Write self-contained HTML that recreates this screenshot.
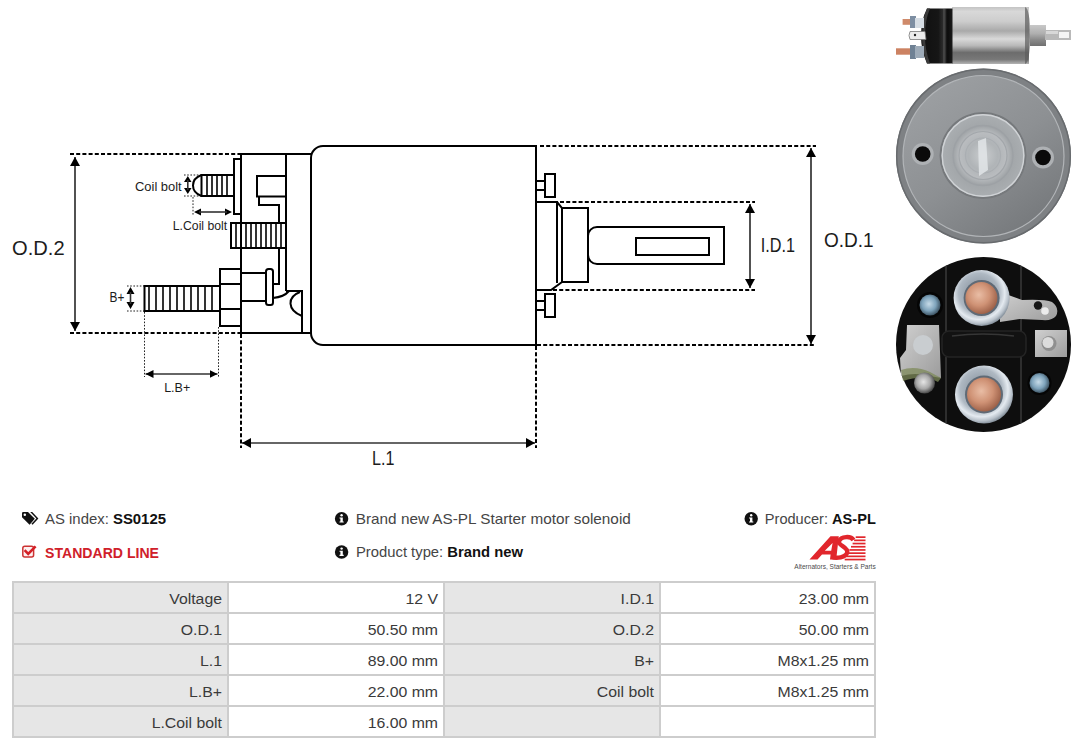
<!DOCTYPE html>
<html><head><meta charset="utf-8">
<style>
html,body{margin:0;padding:0;background:#fff;}
body{width:1080px;height:749px;overflow:hidden;position:relative;font-family:"Liberation Sans",sans-serif;}
.abs{position:absolute;}
svg{position:absolute;left:0;top:0;}
.t{position:absolute;white-space:nowrap;font-size:15px;color:#3a3a3a;line-height:1;}
.t b{color:#111;}
.cell{position:absolute;height:29px;}
.lab{background:#e6e6e6;}
.hl{position:absolute;background:#cfcfcf;}
.ct{position:absolute;white-space:nowrap;font-size:15px;color:#3a3a3a;line-height:1;text-align:right;}
</style></head>
<body>

<!-- TECHNICAL DRAWING -->
<svg width="1080" height="749" viewBox="0 0 1080 749">
<defs>
  <marker id="ah" viewBox="0 0 9 10" refX="9" refY="5" markerWidth="9" markerHeight="10" orient="auto-start-reverse" markerUnits="userSpaceOnUse">
    <path d="M0,0 L9,5 L0,10 z" fill="#000"/>
  </marker>
  <marker id="ahs" viewBox="0 0 8 8" refX="8" refY="4" markerWidth="8" markerHeight="8" orient="auto-start-reverse" markerUnits="userSpaceOnUse">
    <path d="M0,0 L8,4 L0,8 z" fill="#000"/>
  </marker>
</defs>
<g fill="none" stroke="#000" stroke-width="2">
  <!-- dashed extension lines (thick) -->
  <g stroke-dasharray="4 2.2">
    <line x1="70" y1="154" x2="238" y2="154"/>
    <line x1="70" y1="333" x2="240" y2="333"/>
    <line x1="540" y1="146" x2="816" y2="146"/>
    <line x1="537" y1="345" x2="816" y2="345"/>
    <line x1="560" y1="202" x2="755" y2="202"/>
    <line x1="553" y1="290" x2="755" y2="290"/>
    <line x1="241" y1="334" x2="241" y2="448"/>
    <line x1="536" y1="346" x2="536" y2="448"/>
  </g>
  <!-- thin dashed -->
  <g stroke-width="1" stroke-dasharray="1.6 1.6" stroke="#222">
    <line x1="184" y1="175" x2="201" y2="175"/>
    <line x1="184" y1="196" x2="201" y2="196"/>
    <line x1="193" y1="197" x2="193" y2="215"/>
    <line x1="233.5" y1="197" x2="233.5" y2="215"/>
    <line x1="127" y1="286" x2="144" y2="286"/>
    <line x1="127" y1="311" x2="144" y2="311"/>
    <line x1="144.5" y1="312" x2="144.5" y2="377"/>
    <line x1="218.5" y1="327" x2="218.5" y2="377"/>
  </g>
  <!-- main outline -->
  <line x1="238" y1="154" x2="311" y2="154"/>
  <line x1="241" y1="154" x2="241" y2="334"/>
  <line x1="286" y1="154" x2="286" y2="291"/>
  <polyline points="286,291 302,291 302,333"/>
  <line x1="240" y1="333" x2="311" y2="333"/>
  <!-- big body -->
  <path d="M536,146 L323,146 A12,12 0 0 0 311,158 L311,333 A12,12 0 0 0 323,345 L536,345 Z"/>
  <!-- coil plate -->
  <polyline points="241,159 234,159 234,214 241,214"/>
  <!-- coil bolt -->
  <path d="M233,175 L201.5,175 C196,177 193,180 193,185.5 C193,191 196,194 201.5,196 L233,196"/>
  <line x1="201.5" y1="175" x2="201.5" y2="196"/>
  <g stroke-width="1.6">
    <line x1="207" y1="175" x2="207" y2="196"/>
    <line x1="212" y1="175" x2="212" y2="196"/>
    <line x1="217" y1="175" x2="217" y2="196"/>
    <line x1="222" y1="175" x2="222" y2="196"/>
    <line x1="227" y1="175" x2="227" y2="196"/>
  </g>
  <!-- inner step shape -->
  <polyline points="286,176 257,176 257,196.5 286,196.5"/>
  <polyline points="259,196.5 259,205 279,205 279,222"/>
  <polyline points="279,248 279,284 273,284"/>
  <!-- threaded bar -->
  <rect x="231" y="223" width="55" height="25"/>
  <g stroke-width="1.6">
    <line x1="236" y1="223" x2="236" y2="248"/>
    <line x1="246" y1="223" x2="246" y2="248"/>
    <line x1="251" y1="223" x2="251" y2="248"/>
    <line x1="256" y1="223" x2="256" y2="248"/>
    <line x1="261" y1="223" x2="261" y2="248"/>
    <line x1="266" y1="223" x2="266" y2="248"/>
    <line x1="271" y1="223" x2="271" y2="248"/>
    <line x1="276" y1="223" x2="276" y2="248"/>
    <line x1="281" y1="223" x2="281" y2="248"/>
  </g>
  <!-- nut -->
  <rect x="220" y="269" width="21" height="57"/>
  <line x1="220" y1="284" x2="241" y2="284"/>
  <line x1="220" y1="309" x2="241" y2="309"/>
  <!-- B+ bolt -->
  <rect x="144.5" y="286" width="75.5" height="25"/>
  <g stroke-width="1.6">
    <line x1="149" y1="286" x2="149" y2="311"/>
    <line x1="156" y1="286" x2="156" y2="311"/>
    <line x1="163" y1="286" x2="163" y2="311"/>
    <line x1="170" y1="286" x2="170" y2="311"/>
    <line x1="177" y1="286" x2="177" y2="311"/>
    <line x1="184" y1="286" x2="184" y2="311"/>
    <line x1="191" y1="286" x2="191" y2="311"/>
    <line x1="198" y1="286" x2="198" y2="311"/>
    <line x1="205" y1="286" x2="205" y2="311"/>
    <line x1="212" y1="286" x2="212" y2="311"/>
  </g>
  <!-- terminal cylinder + washer -->
  <rect x="241" y="273" width="25" height="28"/>
  <rect x="266" y="269" width="7" height="36" rx="2.5"/>
  <path d="M273,298 Q284,297 289,291"/>
  <path d="M300,292 C287,297 287,310 302,316"/>
  <!-- right side studs -->
  <rect x="545" y="174" width="10" height="23"/>
  <line x1="536" y1="181" x2="545" y2="181"/>
  <line x1="536" y1="190" x2="545" y2="190"/>
  <rect x="545" y="294" width="10" height="23"/>
  <line x1="536" y1="301" x2="545" y2="301"/>
  <line x1="536" y1="310" x2="545" y2="310"/>
  <!-- housing -->
  <polyline points="536,202 557,202 557,283"/>
  <polyline points="557,202 562,208 562,282 551,290 536,290"/>
  <rect x="562" y="208" width="26" height="74"/>
  <!-- shaft -->
  <path d="M588,236 A9,9 0 0 1 597,227 L724,227 L724,264 L597,264 A9,9 0 0 1 588,255"/>
  <rect x="636" y="238" width="73" height="17"/>
</g>
<!-- dimension arrows -->
<g stroke="#333" stroke-width="1.7" fill="none">
  <line x1="75" y1="157" x2="75" y2="331" marker-start="url(#ah)" marker-end="url(#ah)"/>
  <line x1="811" y1="148" x2="811" y2="344" marker-start="url(#ah)" marker-end="url(#ah)"/>
  <line x1="750" y1="204" x2="750" y2="288" marker-start="url(#ah)" marker-end="url(#ah)"/>
  <line x1="242" y1="443" x2="535" y2="443" marker-start="url(#ah)" marker-end="url(#ah)"/>
  <line x1="145.5" y1="374" x2="217.5" y2="374" marker-start="url(#ahs)" marker-end="url(#ahs)"/>
</g>
<g fill="#000">
  <!-- small double arrows -->
  <path d="M187.8,176 L191.5,182 L184,182 Z M187.8,194 L191.5,188 L184,188 Z"/>
  <path d="M130.5,287 L134.5,294 L126.5,294 Z M130.5,309 L134.5,302 L126.5,302 Z"/>
  <path d="M194,212 L201,208.5 L201,215.5 Z M232,212 L225,208.5 L225,215.5 Z"/>
</g>
<g stroke="#333" stroke-width="1.6">
  <line x1="187.8" y1="180" x2="187.8" y2="190"/>
  <line x1="130.5" y1="292" x2="130.5" y2="304"/>
  <line x1="199" y1="212" x2="227" y2="212"/>
</g>
<!-- labels -->
<g font-family="Liberation Sans" fill="#1c1c1c">
  <text x="12" y="254.8" font-size="20.6" textLength="52.6" lengthAdjust="spacingAndGlyphs">O.D.2</text>
  <text x="824" y="247.4" font-size="20.6" textLength="49.7" lengthAdjust="spacingAndGlyphs">O.D.1</text>
  <text x="760.7" y="251.7" font-size="20.6" textLength="34.3" lengthAdjust="spacingAndGlyphs">I.D.1</text>
  <text x="372" y="465.4" font-size="20.6" textLength="22.4" lengthAdjust="spacingAndGlyphs">L.1</text>
  <text x="135" y="190.8" font-size="12" textLength="46.7" lengthAdjust="spacingAndGlyphs">Coil bolt</text>
  <text x="172.8" y="230" font-size="12" textLength="54.4" lengthAdjust="spacingAndGlyphs">L.Coil bolt</text>
  <text x="109.5" y="301.6" font-size="14.5" textLength="14.8" lengthAdjust="spacingAndGlyphs">B+</text>
  <text x="164.2" y="391.5" font-size="13" textLength="26" lengthAdjust="spacingAndGlyphs">L.B+</text>
</g>
</svg>


<!-- INFO TEXT + TABLE -->
<svg width="1080" height="749" viewBox="0 0 1080 749">
<g font-family="Liberation Sans" font-size="15">
  <!-- tag icon -->
  <g fill="#111">
    <path d="M22,513.3 Q22,512 23.3,512 L28,512 L34.8,518.8 L29.6,524.8 L22,517.2 Z"/>
    <path d="M30.2,512 L32.2,512 L38.4,518.6 L32.6,524.8 L31.4,523.8 L36.4,518.6 Z"/>
  </g>
  <circle cx="24.8" cy="514.8" r="1.25" fill="#fff"/>
  <text x="45" y="524.4" fill="#454545" textLength="121" lengthAdjust="spacingAndGlyphs">AS index: <tspan font-weight="bold" fill="#111">SS0125</tspan></text>
  <!-- check square -->
  <rect x="22.8" y="546.3" width="10.8" height="10.6" rx="2" fill="#fdf0f0" stroke="#cc3333" stroke-width="1.5"/>
  <polyline points="24.6,550.2 28.2,553.8 35.6,546.4" fill="none" stroke="#d42026" stroke-width="2.6"/>
  <text x="45" y="557.7" fill="#d0202a" font-weight="bold" font-size="15.4" textLength="114" lengthAdjust="spacingAndGlyphs">STANDARD LINE</text>
  <!-- info icons -->
  <g fill="#111">
    <circle cx="341.6" cy="518.7" r="6.7"/>
    <circle cx="341.6" cy="552" r="6.7"/>
    <circle cx="751.2" cy="518.7" r="6.7"/>
  </g>
  <g fill="#fff">
    <path id="ii" d="M340.4,517.4 L342.8,517.4 L342.8,521.4 L343.7,521.4 L343.7,522.6 L339.5,522.6 L339.5,521.4 L340.4,521.4 L340.4,518.5 L339.5,518.5 L339.5,517.4 Z"/><circle cx="341.6" cy="515.3" r="1.2"/>
    <path d="M340.4,550.7 L342.8,550.7 L342.8,554.7 L343.7,554.7 L343.7,555.9 L339.5,555.9 L339.5,554.7 L340.4,554.7 L340.4,551.8 L339.5,551.8 L339.5,550.7 Z"/><circle cx="341.6" cy="548.6" r="1.2"/>
    <path d="M750,517.4 L752.4,517.4 L752.4,521.4 L753.3,521.4 L753.3,522.6 L749.1,522.6 L749.1,521.4 L750,521.4 L750,518.5 L749.1,518.5 L749.1,517.4 Z"/><circle cx="751.2" cy="515.3" r="1.2"/>
  </g>
  <text x="355.8" y="524.4" fill="#454545" textLength="275" lengthAdjust="spacingAndGlyphs">Brand new AS-PL Starter motor solenoid</text>
  <text x="356" y="557.4" fill="#454545" textLength="167" lengthAdjust="spacingAndGlyphs">Product type: <tspan font-weight="bold" fill="#111">Brand new</tspan></text>
  <text x="764.8" y="524.4" fill="#454545" textLength="111" lengthAdjust="spacingAndGlyphs">Producer: <tspan font-weight="bold" fill="#111">AS-PL</tspan></text>
  <!-- AS logo -->
  <g fill="#e1262c">
    <path d="M809.5,559.6 L830.5,536.3 L838.8,536.3 L836.2,559.6 L830,559.6 L830.6,554.5 L822,554.5 L817.5,559.6 Z M824.8,550.8 L831.2,550.8 L832.6,543 Z"/>
    <rect x="855.7" y="536.3" width="9.8" height="1.7"/>
    <rect x="854.1" y="539.5" width="11.4" height="1.7"/>
    <rect x="852.6" y="542.7" width="12.9" height="1.7"/>
    <rect x="851.0" y="545.9" width="14.5" height="1.7"/>
    <rect x="849.4" y="549.1" width="16.1" height="1.7"/>
    <rect x="847.8" y="552.3" width="17.7" height="1.7"/>
    <rect x="846.3" y="555.5" width="19.2" height="1.7"/>
    <rect x="844.7" y="558.7" width="20.8" height="1.7"/>
  </g>
  <path d="M853.5,540 C851,535.8 841,536 839,541.3 C837.5,545.5 848.5,547 847.2,552.6 C846,557.8 836,558.6 832,557" fill="none" stroke="#e1262c" stroke-width="4.4"/>
  <text x="794.3" y="569" font-size="7.6" fill="#4a4a4a" textLength="81.4" lengthAdjust="spacingAndGlyphs">Alternators, Starters &amp; Parts</text>
</g>
<!-- table -->
<g>
  <rect x="13" y="582" width="215" height="155" fill="#e6e6e6"/>
  <rect x="444" y="582" width="216" height="155" fill="#e6e6e6"/>
  <g fill="#cdcdcd">
    <rect x="12" y="581" width="864" height="2"/>
    <rect x="12" y="612" width="864" height="2"/>
    <rect x="12" y="643" width="864" height="2"/>
    <rect x="12" y="674" width="864" height="2"/>
    <rect x="12" y="705" width="864" height="2"/>
    <rect x="12" y="736" width="864" height="2"/>
    <rect x="12" y="581" width="2" height="157"/>
    <rect x="227" y="581" width="2" height="157"/>
    <rect x="443" y="581" width="2" height="157"/>
    <rect x="659" y="581" width="2" height="157"/>
    <rect x="874" y="581" width="2" height="157"/>
  </g>
</g>
<g font-family="Liberation Sans" font-size="15" fill="#3a3a3a" text-anchor="end">
  <text transform="translate(222,603.6) scale(1.055,1)">Voltage</text>
  <text transform="translate(438,603.6) scale(1.055,1)">12 V</text>
  <text transform="translate(654,603.6) scale(1.055,1)">I.D.1</text>
  <text transform="translate(869,603.6) scale(1.055,1)">23.00 mm</text>
  <text transform="translate(222,634.7) scale(1.055,1)">O.D.1</text>
  <text transform="translate(438,634.7) scale(1.055,1)">50.50 mm</text>
  <text transform="translate(654,634.7) scale(1.055,1)">O.D.2</text>
  <text transform="translate(869,634.7) scale(1.055,1)">50.00 mm</text>
  <text transform="translate(222,665.8) scale(1.055,1)">L.1</text>
  <text transform="translate(438,665.8) scale(1.055,1)">89.00 mm</text>
  <text transform="translate(654,665.8) scale(1.055,1)">B+</text>
  <text transform="translate(869,665.8) scale(1.055,1)">M8x1.25 mm</text>
  <text transform="translate(222,696.9) scale(1.055,1)">L.B+</text>
  <text transform="translate(438,696.9) scale(1.055,1)">22.00 mm</text>
  <text transform="translate(654,696.9) scale(1.055,1)">Coil bolt</text>
  <text transform="translate(869,696.9) scale(1.055,1)">M8x1.25 mm</text>
  <text transform="translate(222,728.0) scale(1.055,1)">L.Coil bolt</text>
  <text transform="translate(438,728.0) scale(1.055,1)">16.00 mm</text>
</g>
</svg>


<!-- PHOTOS -->
<svg width="1080" height="749" viewBox="0 0 1080 749">
<defs>
  <linearGradient id="cyl" x1="0" y1="0" x2="0" y2="1">
    <stop offset="0" stop-color="#c4c4c4"/>
    <stop offset="0.08" stop-color="#d8d8d8"/>
    <stop offset="0.25" stop-color="#cdcdcd"/>
    <stop offset="0.42" stop-color="#a9a9a9"/>
    <stop offset="0.56" stop-color="#d9d9d9"/>
    <stop offset="0.68" stop-color="#b8b8b8"/>
    <stop offset="0.8" stop-color="#6c6c6c"/>
    <stop offset="0.92" stop-color="#787878"/>
    <stop offset="1" stop-color="#b4b4b4"/>
  </linearGradient>
  <linearGradient id="nub" x1="0" y1="0" x2="0" y2="1">
    <stop offset="0" stop-color="#c8c8c8"/>
    <stop offset="0.4" stop-color="#b0b0b0"/>
    <stop offset="0.7" stop-color="#8a8a8a"/>
    <stop offset="1" stop-color="#707070"/>
  </linearGradient>
  <linearGradient id="cap" x1="0" y1="0" x2="1" y2="0">
    <stop offset="0" stop-color="#101010"/>
    <stop offset="0.55" stop-color="#161616"/>
    <stop offset="0.72" stop-color="#303030"/>
    <stop offset="0.85" stop-color="#0c0c0c"/>
    <stop offset="1" stop-color="#1c1c1c"/>
  </linearGradient>
  <linearGradient id="disc" x1="0.2" y1="0.1" x2="0.8" y2="0.95">
    <stop offset="0" stop-color="#9b9ea1"/>
    <stop offset="0.5" stop-color="#8d9093"/>
    <stop offset="1" stop-color="#76797c"/>
  </linearGradient>
  <radialGradient id="boss" cx="0.5" cy="0.5" r="0.5">
    <stop offset="0" stop-color="#c9ccce"/>
    <stop offset="0.35" stop-color="#b0b4b7"/>
    <stop offset="0.55" stop-color="#b9bcbf"/>
    <stop offset="0.7" stop-color="#a2a6a9"/>
    <stop offset="1" stop-color="#aaaeb1"/>
  </radialGradient>
  <radialGradient id="copper" cx="0.42" cy="0.4" r="0.62">
    <stop offset="0" stop-color="#e9bda5"/>
    <stop offset="0.55" stop-color="#cf9275"/>
    <stop offset="1" stop-color="#9c6048"/>
  </radialGradient>
  <radialGradient id="nutg" cx="0.45" cy="0.42" r="0.58">
    <stop offset="0" stop-color="#7a8591"/>
    <stop offset="0.62" stop-color="#aeb8c2"/>
    <stop offset="0.8" stop-color="#e4eaf0"/>
    <stop offset="0.92" stop-color="#b8c1ca"/>
    <stop offset="1" stop-color="#8a95a0"/>
  </radialGradient>
  <radialGradient id="screw" cx="0.45" cy="0.45" r="0.55">
    <stop offset="0" stop-color="#c6dbe8"/>
    <stop offset="0.6" stop-color="#7ea3bb"/>
    <stop offset="1" stop-color="#3f5666"/>
  </radialGradient>
  <radialGradient id="screw2" cx="0.45" cy="0.45" r="0.55">
    <stop offset="0" stop-color="#e6e6e6"/>
    <stop offset="0.6" stop-color="#a8a8a8"/>
    <stop offset="1" stop-color="#4a4a4a"/>
  </radialGradient>
  <linearGradient id="brk" x1="0" y1="0" x2="1" y2="1">
    <stop offset="0" stop-color="#d0d0d0"/>
    <stop offset="1" stop-color="#9c9c9c"/>
  </linearGradient>
  <clipPath id="bclip"><circle cx="983.5" cy="344.5" r="87.5"/></clipPath>
</defs>
<!-- side view -->
<g>
  <rect x="1030" y="25" width="16" height="21" fill="url(#nub)"/>
  <rect x="1045" y="30" width="26" height="10" fill="#b9b9b9"/>
  <rect x="1046" y="31" width="12" height="3" fill="#d8d8d8"/>
  <rect x="1059" y="32" width="10" height="6" fill="#f4f4f4"/>
  <rect x="952" y="7" width="77" height="57" fill="url(#cyl)"/>
  
  <path d="M1025,7 Q1030,8 1030,35.5 Q1030,63 1025,64 Z" fill="#5c5c5c" opacity="0.7"/>
  <path d="M927,8.5 L952.5,8.5 L952.5,63.5 L927,63.5 Q921,50 921,36 Q921,20 927,8.5 Z" fill="url(#cap)"/>
  <path d="M927,8.5 Q922,20 922,36 Q922,50 927,63.5 L930,63.5 Q925,50 925,36 Q925,20 930,8.5 Z" fill="#3a3a3a"/>
  <!-- terminals -->
  <rect x="943" y="9" width="2.5" height="54" fill="#4a4a4a" opacity="0.8"/>
  <rect x="902.6" y="19" width="8" height="5.8" fill="#cf8a6a"/>
  <rect x="896" y="48.3" width="14" height="6.4" fill="#cc8262"/>
  <rect x="910" y="16" width="6" height="12" fill="#7d8ea2"/>
  <rect x="915" y="18" width="9" height="10" fill="#d6dde4"/>
  <rect x="910" y="45" width="6" height="14" fill="#6f8194"/>
  <rect x="915" y="46" width="9" height="12" fill="#9eabb8"/>
  <path d="M910,31.5 L925,31.5 L926,39.5 L910,39.5 Q908,35.5 910,31.5 Z" fill="#ececec" stroke="#7a7a7a" stroke-width="0.8"/>
  <circle cx="915" cy="35" r="1.2" fill="#222"/>
</g>
<!-- end view (metal) -->
<g>
  <circle cx="983.5" cy="156" r="87.5" fill="#7e8184"/>
  <circle cx="983.5" cy="156" r="86.8" fill="none" stroke="#686b6e" stroke-width="1.5"/>
  <circle cx="983.5" cy="156" r="80.5" fill="url(#disc)"/>
  <circle cx="983.5" cy="156" r="80.5" fill="none" stroke="#b2b5b8" stroke-width="1.2"/>
  <circle cx="983" cy="155.5" r="43.5" fill="#76797c"/>
  <circle cx="983" cy="155.5" r="41.5" fill="url(#boss)"/>
  <circle cx="983" cy="155.5" r="40.8" fill="none" stroke="#d0d3d6" stroke-width="1.4"/>
  <circle cx="983" cy="155.5" r="30" fill="none" stroke="#9da1a5" stroke-width="1.3"/>
  <circle cx="983" cy="155.5" r="24" fill="none" stroke="#a3a7ab" stroke-width="1.2"/>
  <circle cx="983" cy="155.5" r="17.5" fill="none" stroke="#aaaeb2" stroke-width="1.2"/>
  <path d="M978,141 L986,138 L988,170 L979,176 Z" fill="#e2e5e8" opacity="0.85"/>
  <circle cx="922.7" cy="154" r="11" fill="#aeb1b4"/>
  <circle cx="922.7" cy="154" r="7.8" fill="#0a0a0a"/>
  <circle cx="1043" cy="157.5" r="11" fill="#aeb1b4"/>
  <circle cx="1043" cy="157.5" r="7.8" fill="#0a0a0a"/>
</g>
<!-- terminal end view (black) -->
<g>
  <circle cx="983.5" cy="344.5" r="87.5" fill="#0e0e0e"/>
  <g clip-path="url(#bclip)">
    <path d="M946,262 L946,333 M946,357 L946,433" stroke="#2e2e2e" stroke-width="2"/>
    <path d="M1021,262 L1021,333 M1021,357 L1021,433" stroke="#2e2e2e" stroke-width="2"/>
    <rect x="942" y="331" width="84" height="26" rx="7" fill="#121212" stroke="#242424" stroke-width="1.5"/>
    <path d="M952,336 Q983,332 1014,336" stroke="#363636" stroke-width="1.5" fill="none"/>
  </g>
  <!-- strap top right -->
  <path d="M1000,292 L1022,300 Q1045,299 1052,302 Q1060,308 1056,316 Q1052,321 1042,320 L1020,319 L1000,322 Z" fill="url(#brk)"/>
  <circle cx="1038" cy="305.5" r="4.2" fill="#161616"/>
  <circle cx="1045" cy="311" r="3.8" fill="#ececec"/>
  <!-- top terminal -->
  <circle cx="981.6" cy="298" r="28" fill="url(#nutg)"/>
  <circle cx="981.6" cy="298" r="18" fill="#5f6a76"/>
  <circle cx="981.4" cy="298" r="16" fill="url(#copper)"/>
  <!-- bottom terminal -->
  <circle cx="984" cy="394.5" r="29" fill="url(#nutg)"/>
  <circle cx="984" cy="394.5" r="19" fill="#5f6a76"/>
  <circle cx="984" cy="394.5" r="17" fill="url(#copper)"/>
  <!-- screws -->
  <circle cx="930" cy="305" r="13" fill="#050505"/>
  <circle cx="930" cy="305" r="10.5" fill="url(#screw)"/>
  <circle cx="1039.5" cy="383" r="12" fill="#050505"/>
  <circle cx="1039.5" cy="383" r="10" fill="url(#screw)"/>
  <!-- left bracket -->
  <path d="M907,325 L939,325 L941,378 L930,376 Q915,372 901,376 L900,358 L906,350 Z" fill="url(#brk)"/>
  <path d="M901,370 Q915,365 930,372 L941,378 L938,382 Q925,374 903,381 Z" fill="#7d8a5a" opacity="0.75"/>
  <circle cx="923" cy="345" r="10" fill="#c9cdd0"/>
  <circle cx="924.5" cy="383" r="10.5" fill="url(#screw2)"/>
  <!-- right bracket -->
  <rect x="1035" y="330" width="32" height="27" fill="url(#brk)"/>
  <circle cx="1049" cy="343.5" r="7.5" fill="#8f8f8f"/>
  <circle cx="1048" cy="342.5" r="5.5" fill="#dcdcdc"/>
</g>
</svg>

</body></html>
